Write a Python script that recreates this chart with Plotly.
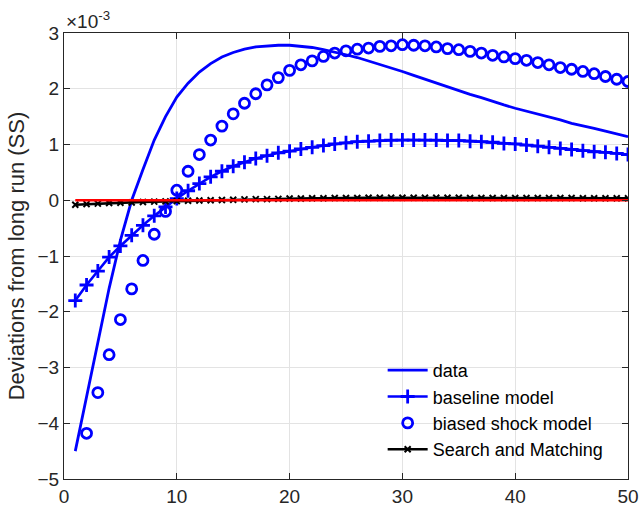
import plotly.graph_objects as go

# horizon (periods)
periods = list(range(1, 51))

# values in units of 1e-3
data_vals = [-4.50, -3.52, -2.52, -1.58, -0.72, 0.00, 0.55, 1.08, 1.50, 1.85,
             2.10, 2.30, 2.45, 2.57, 2.65, 2.71, 2.75, 2.77, 2.78, 2.78,
             2.76, 2.74, 2.70, 2.66, 2.61, 2.56, 2.50, 2.44, 2.37, 2.31,
             2.24, 2.17, 2.10, 2.04, 1.97, 1.90, 1.84, 1.77, 1.71, 1.65,
             1.60, 1.54, 1.49, 1.44, 1.38, 1.34, 1.29, 1.24, 1.19, 1.14]

baseline_vals = [-1.80, -1.52, -1.27, -1.02, -0.82, -0.63, -0.45, -0.28, -0.12, 0.03,
                 0.17, 0.30, 0.42, 0.52, 0.61, 0.68, 0.75, 0.80, 0.85, 0.88,
                 0.92, 0.95, 0.98, 1.01, 1.03, 1.05, 1.06, 1.07, 1.08, 1.08,
                 1.08, 1.08, 1.08, 1.07, 1.07, 1.06, 1.05, 1.04, 1.02, 1.01,
                 0.99, 0.97, 0.95, 0.93, 0.91, 0.89, 0.87, 0.86, 0.84, 0.82]

biased_vals = [None, -4.18, -3.45, -2.77, -2.14, -1.59, -1.08, -0.61, -0.20, 0.18,
               0.52, 0.82, 1.08, 1.33, 1.55, 1.74, 1.91, 2.07, 2.20, 2.33,
               2.43, 2.50, 2.58, 2.64, 2.68, 2.71, 2.73, 2.76, 2.77, 2.79,
               2.78, 2.77, 2.75, 2.72, 2.70, 2.67, 2.64, 2.60, 2.57, 2.54,
               2.51, 2.47, 2.43, 2.38, 2.35, 2.31, 2.27, 2.22, 2.17, 2.13]

search_vals = [-0.08, -0.07, -0.06, -0.05, -0.045, -0.04, -0.03, -0.025, -0.02, -0.015,
               -0.01, -0.005, 0.0, 0.005, 0.01, 0.015, 0.02, 0.02, 0.025, 0.03,
               0.03, 0.035, 0.035, 0.04, 0.04, 0.04, 0.045, 0.045, 0.045, 0.045,
               0.045, 0.045, 0.045, 0.045, 0.045, 0.04, 0.04, 0.04, 0.04, 0.04,
               0.04, 0.04, 0.04, 0.04, 0.04, 0.035, 0.035, 0.035, 0.035, 0.035]

zero_x = [1, 50]
zero_y = [0, 0]

x_ticks = [0, 10, 20, 30, 40, 50]
y_ticks = [-5, -4, -3, -2, -1, 0, 1, 2, 3]

FONT = "Liberation Sans, Arial, Helvetica, sans-serif"
AX = "#262626"
BLUE = "#0000ff"

fig = go.Figure()
fig.add_trace(go.Scatter(x=periods, y=data_vals, mode="lines", name="data",
                         line=dict(color=BLUE, width=2.8)))
fig.add_trace(go.Scatter(x=periods, y=baseline_vals, mode="lines+markers", name="baseline model",
                         line=dict(color=BLUE, width=2.6),
                         marker=dict(symbol="cross-thin-open", size=10, color=BLUE,
                                     line=dict(color=BLUE, width=2.8))))
fig.add_trace(go.Scatter(x=periods, y=biased_vals, mode="markers", name="biased shock model",
                         marker=dict(symbol="circle-open", size=10, color=BLUE,
                                     line=dict(color=BLUE, width=2.8))))
fig.add_trace(go.Scatter(x=periods, y=search_vals, mode="lines+markers", name="Search and Matching",
                         line=dict(color="#000000", width=2.6),
                         marker=dict(symbol="x-thin-open", size=6, color="#000000",
                                     line=dict(color="#000000", width=2))))
fig.add_trace(go.Scatter(x=zero_x, y=zero_y, mode="lines", showlegend=False,
                         line=dict(color="#ff0000", width=2.6)))

axis_common = dict(showline=True, linecolor=AX, linewidth=1.3, mirror="ticks",
                   ticks="inside", ticklen=6, tickwidth=1, tickcolor=AX,
                   showgrid=True, gridcolor="#e3e3e3", gridwidth=1, zeroline=False,
                   automargin=False,
                   tickfont=dict(family=FONT, size=19, color=AX))

fig.update_xaxes(range=[0, 50], tickvals=x_ticks, **axis_common)
fig.update_yaxes(range=[-5, 3], tickvals=y_ticks,
                 title=dict(text="Deviations from long run (SS)",
                            font=dict(family=FONT, size=22, color=AX), standoff=6),
                 **axis_common)

fig.add_annotation(xref="paper", yref="paper", x=0, y=1, xanchor="left", yanchor="bottom",
                   text="×10<sup>-3</sup>", showarrow=False, yshift=-1,
                   font=dict(family=FONT, size=19, color=AX))

fig.update_layout(
    width=641, height=511,
    margin=dict(l=64, r=13, t=33, b=32),
    paper_bgcolor="white", plot_bgcolor="white",
    font=dict(family=FONT, color="#000000"),
    legend=dict(x=0.565, y=0.285, xanchor="left", yanchor="top",
                bgcolor="rgba(0,0,0,0)", borderwidth=0,
                font=dict(family=FONT, size=18, color="#000000"),
                itemwidth=40, tracegroupgap=0),
    showlegend=True,
)

fig.write_html("out.html", config={"displayModeBar": False},
               post_script="document.body.style.margin='0';document.body.style.overflow='hidden';")
